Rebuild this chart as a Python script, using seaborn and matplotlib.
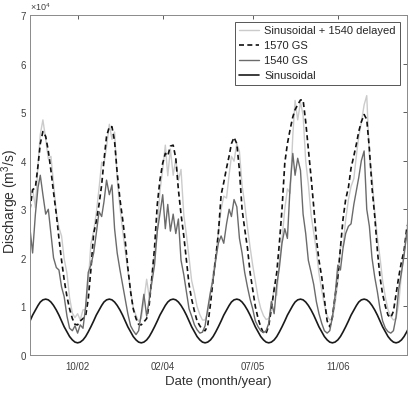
import pandas as pd
import numpy as np
import seaborn as sns
import matplotlib.pyplot as plt
import matplotlib.dates as mdates

# --- DATA (discharge in units of 1e4 m3/s, semi-monthly) ---
dates = [pd.Timestamp(y, m, d) for y in range(2002, 2008) for m in range(1, 13) for d in (1, 16)]

sin_plus_1540_delayed = [
    3.2, 3.42, 3.03, 3.92, 4.54, 4.84, 4.45, 4.04, 4.09, 3.52, 2.93, 2.62, 2.45, 1.98, 1.68, 1.18, 0.86, 0.77, 0.85, 0.72, 0.93, 0.93, 1.48, 2.28,
    2.55, 2.92, 3.43, 3.97, 3.94, 4.29, 4.75, 4.44, 4.59, 3.62, 3.03, 2.57, 2.15, 1.73, 1.33, 0.98, 0.81, 0.69, 0.75, 1.12, 1.56, 1.18, 1.63, 2.08,
    2.55, 3.37, 3.83, 4.32, 3.69, 4.24, 3.7, 4.04, 3.59, 3.82, 2.88, 2.47, 2.0, 1.53, 1.28, 1.0, 0.83, 0.72, 0.72, 0.87, 1.26, 1.68, 2.03, 2.53,
    3.0, 3.27, 3.23, 3.72, 4.09, 3.99, 4.35, 4.19, 3.49, 3.12, 2.63, 2.22, 1.85, 1.53, 1.18, 0.96, 0.81, 0.73, 0.75, 0.92, 1.41, 1.23, 1.93, 2.38,
    3.0, 3.42, 3.33, 4.52, 5.24, 4.84, 5.2, 4.94, 3.99, 3.52, 2.88, 2.52, 2.15, 1.68, 1.33, 1.03, 0.81, 0.72, 0.75, 1.05, 1.51, 2.23, 2.23, 2.78,
    3.2, 3.47, 3.63, 4.12, 4.49, 4.79, 5.15, 5.34, 4.09, 3.67, 2.93, 2.42, 2.0, 1.53, 1.18, 0.93, 0.79, 0.72, 0.75, 1.05, 1.66, 2.08, 2.53, 3.08,
]

gs_1570 = [
    3.0, 3.4, 3.45, 3.9, 4.35, 4.6, 4.5, 4.2, 3.8, 3.35, 2.9, 2.4, 1.95, 1.55, 1.2, 0.95, 0.75, 0.63, 0.62, 0.7, 0.75, 0.8, 1.15, 1.75,
    2.5, 2.75, 3.1, 3.5, 4.0, 4.5, 4.7, 4.7, 4.4, 3.75, 3.2, 2.8, 2.35, 1.8, 1.3, 0.95, 0.75, 0.63, 0.62, 0.68, 0.75, 1.05, 1.6, 2.2,
    3.1, 3.6, 3.95, 4.15, 4.1, 4.3, 4.32, 4.05, 3.4, 2.9, 2.45, 1.95, 1.45, 1.15, 0.9, 0.7, 0.6, 0.52, 0.5, 0.6, 1.05, 1.55, 2.0, 2.5,
    3.3, 3.55, 3.85, 4.1, 4.35, 4.48, 4.35, 3.8, 3.0, 2.6, 2.2, 1.7, 1.35, 1.0, 0.75, 0.58, 0.45, 0.45, 0.6, 0.95, 1.35, 1.7, 2.3, 3.0,
    3.95, 4.35, 4.65, 4.9, 5.05, 5.15, 5.25, 5.25, 4.8, 4.25, 3.65, 3.05, 2.4, 1.95, 1.6, 1.15, 0.7, 0.58, 0.78, 1.2, 1.6, 2.2, 2.8, 3.2,
    3.45, 3.85, 4.1, 4.35, 4.6, 4.8, 4.95, 4.85, 4.25, 3.45, 2.85, 2.15, 1.6, 1.25, 1.0, 0.82, 0.77, 0.9, 1.25, 1.6, 1.92, 2.15, 2.6, 2.8,
]

gs_1540 = [
    2.6, 2.1, 2.9, 3.45, 3.7, 3.3, 2.9, 3.0, 2.5, 2.0, 1.8, 1.75, 1.4, 1.2, 0.8, 0.55, 0.5, 0.6, 0.45, 0.62, 0.55, 1.0, 1.7, 1.85,
    2.1, 2.5, 2.95, 2.85, 3.15, 3.6, 3.3, 3.5, 2.6, 2.1, 1.75, 1.45, 1.15, 0.85, 0.6, 0.5, 0.42, 0.5, 0.85, 1.25, 0.8, 1.15, 1.5, 1.85,
    2.55, 2.9, 3.3, 2.6, 3.1, 2.55, 2.9, 2.5, 2.8, 1.95, 1.65, 1.3, 0.95, 0.8, 0.62, 0.52, 0.45, 0.47, 0.6, 0.95, 1.3, 1.55, 1.95, 2.3,
    2.45, 2.3, 2.7, 3.0, 2.85, 3.2, 3.05, 2.4, 2.1, 1.7, 1.4, 1.15, 0.95, 0.7, 0.58, 0.5, 0.46, 0.5, 0.65, 1.1, 0.85, 1.45, 1.8, 2.3,
    2.6, 2.4, 3.5, 4.15, 3.7, 4.05, 3.8, 2.9, 2.5, 1.95, 1.7, 1.45, 1.1, 0.85, 0.65, 0.5, 0.45, 0.5, 0.78, 1.2, 1.85, 1.75, 2.2, 2.5,
    2.65, 2.7, 3.1, 3.4, 3.65, 4.0, 4.2, 3.0, 2.65, 2.0, 1.6, 1.3, 0.95, 0.7, 0.55, 0.48, 0.45, 0.5, 0.78, 1.35, 1.7, 2.05, 2.5, 2.7,
]

sinusoidal = [
    0.70, 0.82, 0.925, 1.02, 1.09, 1.135, 1.15, 1.135, 1.09, 1.02, 0.925, 0.82, 0.70, 0.58, 0.475, 0.38, 0.31, 0.265, 0.25, 0.265, 0.31, 0.38, 0.475, 0.58,
    0.70, 0.82, 0.925, 1.02, 1.09, 1.135, 1.15, 1.135, 1.09, 1.02, 0.925, 0.82, 0.70, 0.58, 0.475, 0.38, 0.31, 0.265, 0.25, 0.265, 0.31, 0.38, 0.475, 0.58,
    0.70, 0.82, 0.925, 1.02, 1.09, 1.135, 1.15, 1.135, 1.09, 1.02, 0.925, 0.82, 0.70, 0.58, 0.475, 0.38, 0.31, 0.265, 0.25, 0.265, 0.31, 0.38, 0.475, 0.58,
    0.70, 0.82, 0.925, 1.02, 1.09, 1.135, 1.15, 1.135, 1.09, 1.02, 0.925, 0.82, 0.70, 0.58, 0.475, 0.38, 0.31, 0.265, 0.25, 0.265, 0.31, 0.38, 0.475, 0.58,
    0.70, 0.82, 0.925, 1.02, 1.09, 1.135, 1.15, 1.135, 1.09, 1.02, 0.925, 0.82, 0.70, 0.58, 0.475, 0.38, 0.31, 0.265, 0.25, 0.265, 0.31, 0.38, 0.475, 0.58,
    0.70, 0.82, 0.925, 1.02, 1.09, 1.135, 1.15, 1.135, 1.09, 1.02, 0.925, 0.82, 0.70, 0.58, 0.475, 0.38, 0.31, 0.265, 0.25, 0.265, 0.31, 0.38, 0.475, 0.58,
]

tick_dates = ["2002-10-01", "2004-02-01", "2005-07-01", "2006-11-01"]

# --- STYLE ---
sns.set_theme(style="white")
plt.rcParams['font.family'] = ['Liberation Sans', 'DejaVu Sans']
plt.rcParams['mathtext.fontset'] = 'custom'
plt.rcParams['mathtext.rm'] = 'Liberation Sans'

df = pd.DataFrame({
    "Date": dates,
    "light": np.array(sin_plus_1540_delayed) * 1e4,
    "gs1570": np.array(gs_1570) * 1e4,
    "gs1540": np.array(gs_1540) * 1e4,
    "sin": np.array(sinusoidal) * 1e4,
})

fig = plt.figure(figsize=(4.12, 3.95), dpi=100)
ax = fig.add_axes([0.0728, 0.1013, 0.9143, 0.8608])

sns.lineplot(data=df, x="Date", y="light", ax=ax, color="#cbcbcb", lw=1.0, label="Sinusoidal + 1540 delayed")
sns.lineplot(data=df, x="Date", y="gs1570", ax=ax, color="#111111", lw=1.2, linestyle=(0, (3, 2)), label="1570 GS")
sns.lineplot(data=df, x="Date", y="gs1540", ax=ax, color="#6b6b6b", lw=1.0, label="1540 GS")
sns.lineplot(data=df, x="Date", y="sin", ax=ax, color="#1a1a1a", lw=1.2, label="Sinusoidal")

ax.set_xlim(pd.Timestamp("2002-01-01"), pd.Timestamp("2007-12-01"))
ax.set_ylim(0, 7e4)
ax.set_yticks(np.arange(0, 7.01e4, 1e4))
ax.set_xticks([pd.Timestamp(t) for t in tick_dates])
ax.xaxis.set_major_formatter(mdates.DateFormatter("%m/%y"))
ax.ticklabel_format(axis='y', style='sci', scilimits=(0, 0), useMathText=True)
ax.yaxis.get_offset_text().set_fontsize(6.5)
ax.yaxis.get_offset_text().set_color("#404040")

ax.tick_params(direction='in', top=True, right=True, length=3, width=0.6,
               labelsize=7, colors="#404040")
ax.tick_params(axis='y', pad=2)
ax.tick_params(axis='x', pad=5)
for s in ax.spines.values():
    s.set_color("#8a8a8a")
    s.set_linewidth(0.7)

ax.set_xlabel("Date (month/year)", fontsize=9.5, color="#303030", labelpad=3)
ax.set_ylabel("Discharge (m$^3$/s)", fontsize=10, color="#303030")
ax.yaxis.set_label_coords(-0.025, 0.45)

leg = ax.legend(loc="upper right", bbox_to_anchor=(0.981, 0.979), borderaxespad=0,
                fontsize=8, frameon=True, fancybox=False, framealpha=1,
                handlelength=1.8, handletextpad=0.5, labelspacing=0.45, borderpad=0.35)
leg.get_frame().set_edgecolor("#555555")
leg.get_frame().set_linewidth(0.7)

fig.savefig("out.png", dpi=100)
